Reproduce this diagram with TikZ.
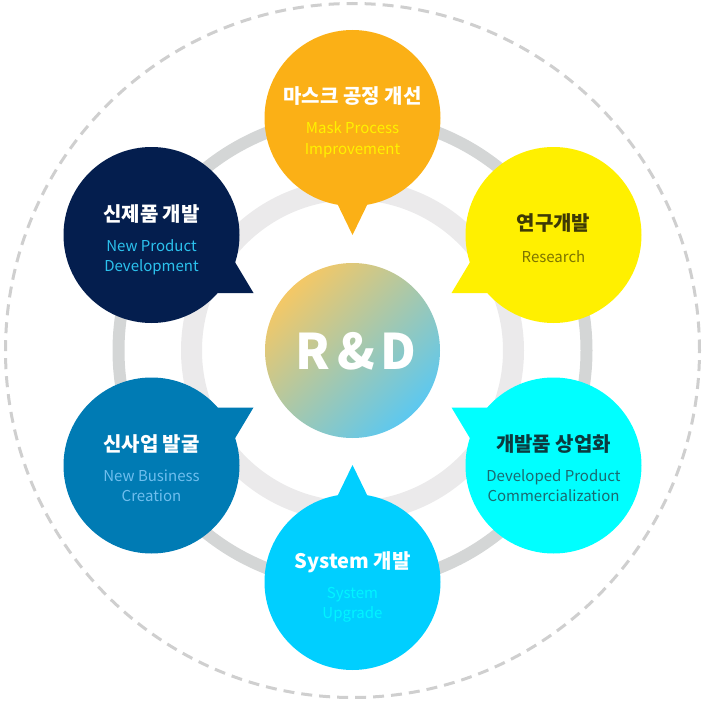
\documentclass[tikz,border=0pt]{standalone}
\usepackage{fontspec}
\setmainfont{Noto Sans CJK KR}
\usetikzlibrary{calc}
\definecolor{cOrange}{HTML}{FBB016}
\definecolor{cYellow}{HTML}{FFF000}
\definecolor{cCyan}{HTML}{00FFFF}
\definecolor{cSky}{HTML}{00CFFF}
\definecolor{cBlue}{HTML}{007BB4}
\definecolor{cNavy}{HTML}{041E4E}
\definecolor{ringDark}{HTML}{D4D6D6}
\definecolor{ringLight}{HTML}{EBEAEB}
\definecolor{dashGray}{HTML}{CFCFCF}
\definecolor{gradA}{HTML}{F4C866}
\definecolor{gradB}{HTML}{5CC8F0}
\definecolor{subYellow}{HTML}{FFF200}
\definecolor{ttlOlive}{HTML}{3E3A05}
\definecolor{subOlive}{HTML}{7C7400}
\definecolor{ttlTeal}{HTML}{0C3A3E}
\definecolor{subTeal}{HTML}{1B6A70}
\definecolor{subAqua}{HTML}{00F4FF}
\definecolor{subLBlue}{HTML}{6FBEEE}
\definecolor{subCyanN}{HTML}{2CC2EE}
\tikzset{
  bubble/.style={circle, minimum size=176pt, inner sep=0pt, outer sep=0pt},
  ttl/.style={anchor=base, inner sep=0pt, font=\bfseries\fontsize{20}{22}\selectfont},
  subt/.style={anchor=base, inner sep=0pt, font=\fontsize{15}{20}\selectfont},
  dashring/.style={draw=dashGray, line width=3pt, dash pattern=on 11pt off 7pt},
}
\begin{document}
\begin{tikzpicture}[x=1pt,y=-1pt]
\useasboundingbox (0,0) rectangle (705,701);
\coordinate (O) at (352.5,350.5);
% rings
\draw[dashring] (O) circle (347pt);
\draw[line width=12pt, draw=ringDark] (O) circle (234pt);
\draw[line width=21pt, draw=ringLight] (O) circle (161pt);
% center
\shade[top color=gradA, bottom color=gradB, shading angle=45] (O) circle (87.5pt);
\node[anchor=base, inner sep=0pt, text=white, font=\bfseries\fontsize{49}{50}\selectfont] (rd) at (356,369) {R\kern7pt\&\kern5pt D};
% bubble 1 top
\node[bubble, fill=cOrange] (b1) at (352.5,118) {};
\fill[cOrange] ($(b1.center)+(-17,82)$) -- ($(b1.center)+(0,117)$) -- ($(b1.center)+(17,82)$) -- cycle;
\node[ttl, text=white] (t1) at ($(b1.center)+(0,-14)$) {마스크 공정 개선};
\node[subt, text=subYellow] (s1a) at ($(b1.center)+(0,16)$) {Mask Process};
\node[subt, text=subYellow] (s1b) at ($(b1.center)+(0,36)$) {Improvement};
% bubble 2 top-right
\node[bubble, fill=cYellow] (b2) at (553.5,235) {};
\fill[cYellow] ($(b2.center)+(-40,18)$) -- ($(b2.center)+(-78,18)$) -- ($(b2.center)+(-102,58)$) -- ($(b2.center)+(-40,58)$) -- cycle;
\node[ttl, text=ttlOlive] (t2) at ($(b2.center)+(0,-5)$) {연구개발};
\node[subt, text=subOlive] (s2a) at ($(b2.center)+(0,27)$) {Research};
% bubble 3 bottom-right
\node[bubble, fill=cCyan] (b3) at (553.5,465.5) {};
\fill[cCyan] ($(b3.center)+(-40,-18)$) -- ($(b3.center)+(-78,-18)$) -- ($(b3.center)+(-102,-58)$) -- ($(b3.center)+(-40,-58)$) -- cycle;
\node[ttl, text=ttlTeal] (t3) at ($(b3.center)+(0,-14)$) {개발품 상업화};
\node[subt, text=subTeal] (s3a) at ($(b3.center)+(0,16)$) {Developed Product};
\node[subt, text=subTeal] (s3b) at ($(b3.center)+(0,36)$) {Commercialization};
% bubble 4 bottom
\node[bubble, fill=cSky] (b4) at (352.5,582) {};
\fill[cSky] ($(b4.center)+(-17,-82)$) -- ($(b4.center)+(0,-117)$) -- ($(b4.center)+(17,-82)$) -- cycle;
\node[ttl, text=white] (t4) at ($(b4.center)+(0,-14)$) {System 개발};
\node[subt, text=subAqua] (s4a) at ($(b4.center)+(0,16)$) {System};
\node[subt, text=subAqua] (s4b) at ($(b4.center)+(0,36)$) {Upgrade};
% bubble 5 bottom-left
\node[bubble, fill=cBlue] (b5) at (151.5,465.5) {};
\fill[cBlue] ($(b5.center)+(40,-18)$) -- ($(b5.center)+(78,-18)$) -- ($(b5.center)+(102,-58)$) -- ($(b5.center)+(40,-58)$) -- cycle;
\node[ttl, text=white] (t5) at ($(b5.center)+(0,-14)$) {신사업 발굴};
\node[subt, text=subLBlue] (s5a) at ($(b5.center)+(0,16)$) {New Business};
\node[subt, text=subLBlue] (s5b) at ($(b5.center)+(0,36)$) {Creation};
% bubble 6 top-left
\node[bubble, fill=cNavy] (b6) at (151.5,235) {};
\fill[cNavy] ($(b6.center)+(40,18)$) -- ($(b6.center)+(78,18)$) -- ($(b6.center)+(102,58)$) -- ($(b6.center)+(40,58)$) -- cycle;
\node[ttl, text=white] (t6) at ($(b6.center)+(0,-14)$) {신제품 개발};
\node[subt, text=subCyanN] (s6a) at ($(b6.center)+(0,16)$) {New Product};
\node[subt, text=subCyanN] (s6b) at ($(b6.center)+(0,36)$) {Development};
\end{tikzpicture}
\end{document}
